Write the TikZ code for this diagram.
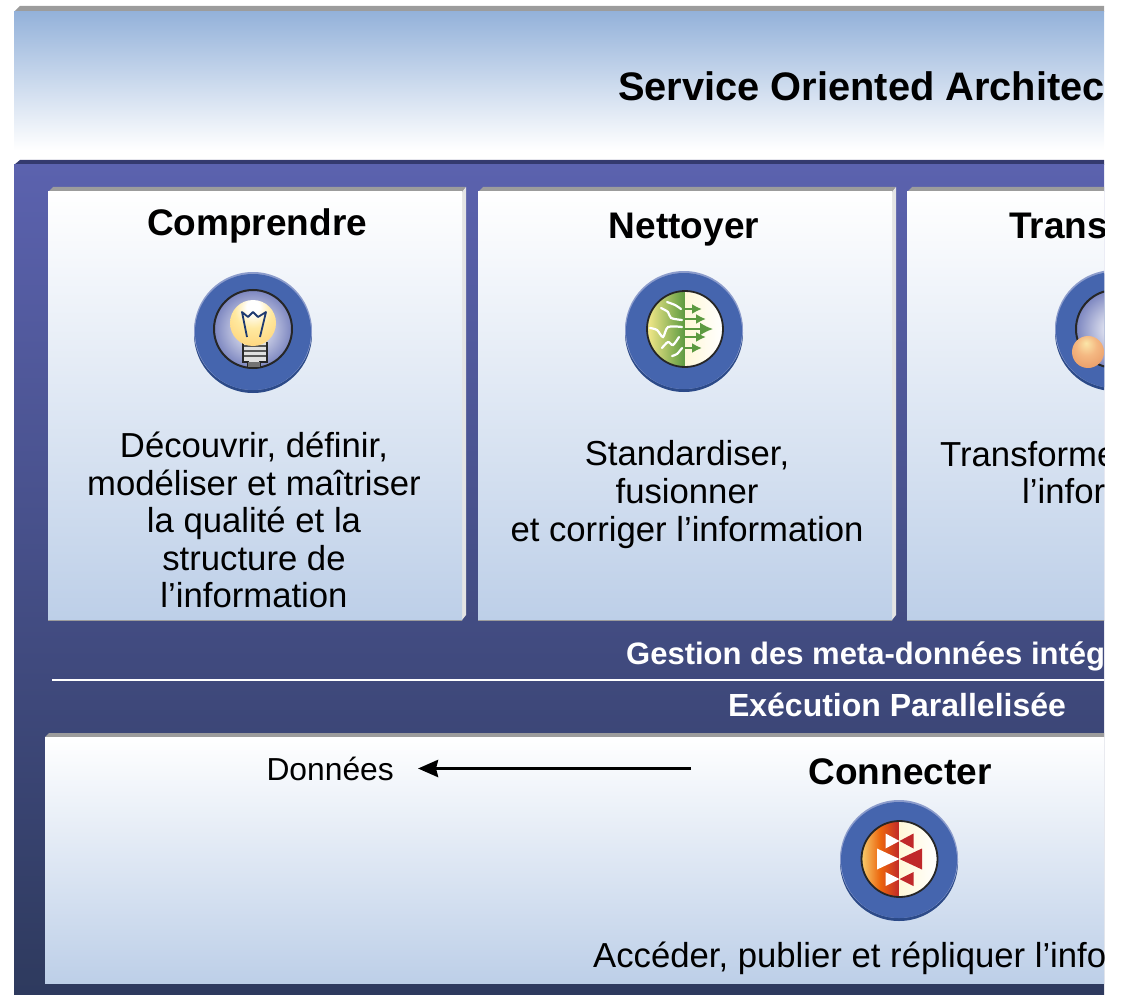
\documentclass[tikz,border=0pt]{standalone}
\usepackage{fontspec}
\setmainfont{Liberation Sans}
\usepackage{pgf,tikz}
\usetikzlibrary{arrows.meta}

\definecolor{bandblue}{HTML}{94B2DA}
\definecolor{panelblue}{HTML}{5B62AE}
\definecolor{paneldark}{HTML}{2E3A5E}
\definecolor{paneledge}{HTML}{343A6E}
\definecolor{bevelgrey}{HTML}{9C9C9C}
\definecolor{bevellight}{HTML}{E4E4E4}
\definecolor{boxblue}{HTML}{BDCFE8}
\definecolor{diskblue}{HTML}{4565AE}
\definecolor{diskdark}{HTML}{2C4A88}
\definecolor{disklight}{HTML}{8C9CCC}
\definecolor{ringblue}{HTML}{7C86C0}
\definecolor{leafgreen}{HTML}{5C9A40}
\definecolor{paleyellow}{HTML}{F5E98A}
\definecolor{cream}{HTML}{FFF8D8}
\definecolor{paleorange}{HTML}{F8D070}
\definecolor{flagred}{HTML}{C0282A}
\definecolor{wirenavy}{HTML}{1E3A70}
\definecolor{glowa}{HTML}{FFE9A0}
\definecolor{glowb}{HTML}{FFCF72}
\definecolor{glowc}{HTML}{F3AE56}
\definecolor{peacha}{HTML}{FBE6A8}
\definecolor{peachb}{HTML}{F4B882}
\definecolor{peachc}{HTML}{E89A66}
\definecolor{peachd}{HTML}{B87055}

\pgfdeclareradialshading{bulbglow}{\pgfpoint{0bp}{20bp}}{color(0bp)=(white);color(7bp)=(white);color(20bp)=(glowa);color(42bp)=(glowb);color(70bp)=(glowc)}
\pgfdeclareradialshading{peachball}{\pgfpoint{-3bp}{14bp}}{color(0bp)=(peacha);color(16bp)=(peachb);color(36bp)=(peachc);color(66bp)=(peachd)}

\tikzset{
  bigtitle/.style={font=\fontsize{37}{40}\selectfont\bfseries, anchor=base},
  bodytext/.style={font=\fontsize{34.7}{37.6}\selectfont, align=center},
  bartext/.style={font=\fontsize{31}{34}\selectfont\bfseries, text=white, anchor=base},
}

\begin{document}
\begin{tikzpicture}[x=1pt, y=-1pt]
  \def\rightedge{1104}
  \def\boxtop{192}
  \def\boxlow{620}
  % one blue disk with its ring, inner part is drawn by the caller
  \def\icondisk#1#2{
    \fill[diskdark] (#1, #2+2) circle[radius=59];
    \fill[disklight] (#1, #2-1) circle[radius=59];
    \fill[diskblue] (#1, #2) circle[radius=58];
  }

  \useasboundingbox (0, 0) rectangle (1124, 995);
  \begin{scope}
  \clip (0, 0) rectangle (\rightedge, 995);

  % band on top
  \fill[bevelgrey] (14, 12) -- (20, 6) -- (\rightedge, 6) -- (\rightedge, 12) -- cycle;
  \shade[top color=bandblue, bottom color=white] (14, 12) rectangle (\rightedge, 150);
  \node[bigtitle, font=\fontsize{39.8}{42}\selectfont\bfseries, anchor=base west, inner sep=0] (soatitle) at (618, 101) {Service Oriented Architec};

  % panel behind all boxes
  \fill[paneledge] (14, 165) -- (20, 160) -- (\rightedge, 160) -- (\rightedge, 165) -- cycle;
  \shade[top color=panelblue, bottom color=paneldark] (14, 165) rectangle (\rightedge, 995);

  % the three upper boxes
  \foreach \boxleft/\boxright in {48/462, 478/892, 907/1321} {
    \fill[bevelgrey] (\boxleft, \boxtop) -- (\boxleft+5, \boxtop-5) -- (\boxright+4, \boxtop-5) -- (\boxright, \boxtop) -- cycle;
    \fill[bevellight] (\boxright, \boxtop) -- (\boxright+4, \boxtop-5) -- (\boxright+4, \boxlow-5) -- (\boxright, \boxlow) -- cycle;
    \shade[top color=white, bottom color=boxblue] (\boxleft, \boxtop) rectangle (\boxright, \boxlow);
    \draw[bevelgrey, thin] (\boxleft, \boxlow) -- (\boxright, \boxlow);
  }
  \node[bigtitle, inner sep=0] (comprendre) at (257, 235) {Comprendre};
  \node[bigtitle, inner sep=0] (nettoyer) at (684, 238) {Nettoyer};
  \node[bigtitle, anchor=base west, inner sep=0] (transformer) at (1009, 238) {Trans};

  \node[bodytext] (comprendretext) at (254, 520) {Découvrir, définir,\\modéliser et maîtriser\\la qualité et la\\structure de\\l’information};
  \node[bodytext] (nettoyertext) at (687, 494.5) {Standardiser,\\fusionner\\et corriger l’information};
  \node[bodytext, anchor=base west, inner sep=0] (transformertext) at (940, 466) {Transforme};
  \node[bodytext, anchor=base west, inner sep=0] (transformerinfo) at (1022, 503) {l’infor};

  % bars between the boxes
  \node[bartext, anchor=base west, inner sep=0] (gestion) at (626, 664) {Gestion des meta-données intég};
  \coordinate (ruleleft) at (52, 680);
  \coordinate (ruleright) at (\rightedge, 680);
  \draw[white, line width=1.2pt] (ruleleft) -- (ruleright);
  \node[bartext, font=\fontsize{32}{34}\selectfont\bfseries, inner sep=0] (execution) at (897, 716) {Exécution Parallelisée};

  % lower box
  \fill[bevelgrey] (45, 737) -- (49, 733) -- (\rightedge, 733) -- (\rightedge, 737) -- cycle;
  \shade[top color=white, bottom color=boxblue] (45, 737) rectangle (\rightedge, 983);
  \node[font=\fontsize{31.8}{34}\selectfont, anchor=base east, inner sep=0] (donnees) at (394, 780) {Données};
  \coordinate (flowstart) at (691, 768.5);
  \draw[-{Stealth[length=20pt, width=17pt, inset=2pt]}, line width=3.6pt, shorten >=24pt] (flowstart) -- (donnees.east |- flowstart);
  \node[bigtitle, inner sep=0] (connecter) at (900, 784) {Connecter};
  \node[bodytext, anchor=base west, inner sep=0] (accesstext) at (593, 967) {Accéder, publier et répliquer l’info};

  % lamp
  \icondisk{253}{332}
  \shade[inner color=white, outer color=ringblue] (253, 329) circle[radius=39];
  \draw[black!85, line width=2pt] (253, 329) circle[radius=39];
  \fill[black!12] (243, 342) rectangle (267, 362);
  \foreach \threadh in {346, 351, 356} {
    \draw[black!65, line width=1.4pt] (243, \threadh) -- (267, \threadh);
  }
  \draw[black!85, line width=1.2pt] (243, 342) -- (243, 362) -- (248, 362) -- (248, 367) -- (260, 367) -- (260, 362) -- (267, 362) -- (267, 342);
  \fill[black!55] (248, 362) rectangle (260, 367);
  \shade[shading=bulbglow] (253, 323) circle[radius=23];
  \draw[wirenavy, line width=1.8pt, line join=round] (247, 337) -- (242, 312) -- (248, 317) -- (253, 312) -- (258, 317) -- (266, 312) -- (260, 337);

  % cleaning
  \icondisk{684}{331}
  \begin{scope}
    \clip (685, 329) circle[radius=38];
    \shade[left color=paleyellow, right color=leafgreen] (647, 291) rectangle (685, 367);
    \shade[left color=cream, right color=white] (685, 291) rectangle (723, 367);
  \end{scope}
  \draw[black!85, line width=1.8pt] (685, 329) circle[radius=38];
  \foreach \arrowend/\arrowh/\arrowhead in {702/309/10, 706/319/10, 713/329/13, 706/337/10, 702/348/10} {
    \draw[-{Latex[length=\arrowhead pt, width=\arrowhead pt]}, leafgreen, line width=2pt] (684, \arrowh) -- (\arrowend, \arrowh);
  }
  \draw[white, line width=2.2pt, line cap=round] plot[smooth] coordinates {(667, 302) (675, 305) (681, 309)};
  \draw[white, line width=2.2pt, line cap=round] plot[smooth] coordinates {(661, 308) (668, 312) (671, 318) (682, 320)};
  \draw[white, line width=2.2pt, line cap=round] plot[smooth] coordinates {(650, 328) (657, 330) (663, 337) (668, 327) (682, 327)};
  \draw[white, line width=2.2pt, line cap=round] plot[smooth] coordinates {(662, 348) (668, 342) (673, 345) (679, 337)};
  \draw[white, line width=2.2pt, line cap=round] plot[smooth] coordinates {(672, 356) (677, 354) (682, 348)};

  % sphere, cut by the right edge
  \icondisk{1114}{330}
  \shade[inner color=white, outer color=ringblue] (1115, 329) circle[radius=39];
  \draw[black!85, line width=2pt] (1115, 329) circle[radius=39];
  \shade[shading=peachball] (1088, 352) circle[radius=16];

  % connecting
  \icondisk{899}{860}
  \begin{scope}
    \clip (899.5, 859) circle[radius=38];
    \shade[left color=paleorange, right color=flagred, middle color=orange!70!flagred] (861, 821) rectangle (899.5, 897);
    \shade[left color=cream, right color=white] (899.5, 821) rectangle (938, 897);
  \end{scope}
  \draw[black!85, line width=1.8pt] (899.5, 859) circle[radius=38];
  \foreach \tiph/\halfh/\halfw in {841/7.5/14, 859/10.5/22.5, 879/7/14} {
    \fill[white] (899.5, \tiph) -- (899.5-\halfw, \tiph-\halfh) -- (899.5-\halfw, \tiph+\halfh) -- cycle;
    \fill[flagred] (899.5, \tiph) -- (899.5+\halfw, \tiph-\halfh) -- (899.5+\halfw, \tiph+\halfh) -- cycle;
  }
  \end{scope}
\end{tikzpicture}
\end{document}
